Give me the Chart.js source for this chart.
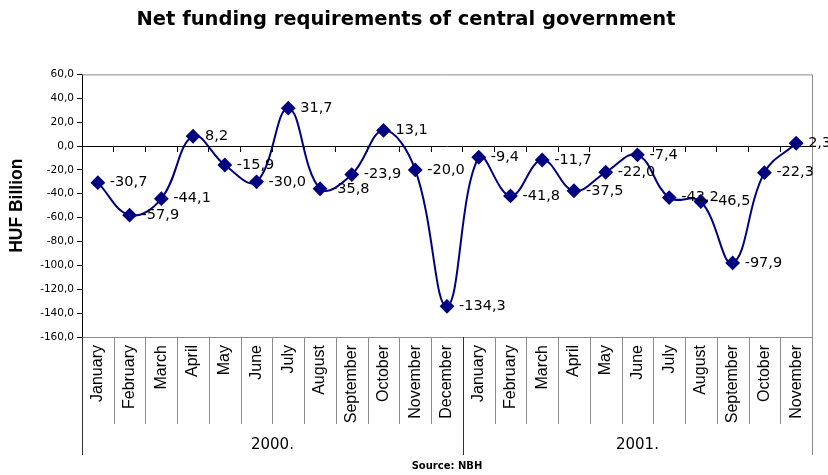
<!DOCTYPE html>
<html>
<head>
<meta charset="utf-8">
<title>Net funding requirements of central government</title>
<script src="https://cdn.jsdelivr.net/npm/chart.js@4.4.1/dist/chart.umd.min.js"></script>
<style>
  html, body { margin: 0; padding: 0; background: #ffffff; }
  #wrap { width: 828px; height: 475px; }
</style>
</head>
<body>
<div id="wrap"><canvas id="chart" width="828" height="475"></canvas></div>
<script>
// Monthly net funding requirement, HUF billion
const months2000 = ['January', 'February', 'March', 'April', 'May', 'June', 'July',
  'August', 'September', 'October', 'November', 'December'];
const months2001 = ['January', 'February', 'March', 'April', 'May', 'June', 'July',
  'August', 'September', 'October', 'November'];
const values2000 = [-30.7, -57.9, -44.1, 8.2, -15.9, -30.0, 31.7, -35.8, -23.9, 13.1, -20.0, -134.3];
const values2001 = [-9.4, -41.8, -11.7, -37.5, -22.0, -7.4, -43.2, -46.5, -97.9, -22.3, 2.3];
const yearLabels = ['2000.', '2001.'];
const yMin = -160;
const yMax = 60;
const yStep = 20;

const labels = months2000.concat(months2001);
const values = values2000.concat(values2001);
const yearSpans = [months2000.length, months2001.length];

const fmt = v => v.toFixed(1).replace('.', ',');

const NAVY = '#000080';
const GRAY = '#8c8c8c';
const SANS = "'DejaVu Sans', sans-serif";
const ARIAL = "'Liberation Sans', Arial, sans-serif";

// Value labels to the right of each marker
const valueLabels = {
  id: 'valueLabels',
  afterDatasetsDraw(chart) {
    const ctx = chart.ctx;
    const meta = chart.getDatasetMeta(0);
    ctx.save();
    ctx.font = '14.5px ' + SANS;
    ctx.fillStyle = '#000';
    ctx.textAlign = 'left';
    ctx.textBaseline = 'middle';
    meta.data.forEach((pt, i) => {
      ctx.fillText(fmt(chart.data.datasets[0].data[i]), pt.x + 12, pt.y);
    });
    ctx.restore();
  }
};

// Plot frame, category separators, year row and source note
const frame = {
  id: 'frame',
  beforeDatasetsDraw(chart) {
    const ctx = chart.ctx;
    const a = chart.chartArea;
    const xs = chart.scales.x;
    const n = labels.length;
    const monthRow = 87;
    const yearRow = 118;
    const edge = i => {
      if (i <= 0) return a.left;
      if (i >= n) return a.right;
      return (xs.getPixelForValue(i - 1) + xs.getPixelForValue(i)) / 2;
    };
    ctx.save();
    ctx.lineWidth = 1;
    // top and right border of the plot
    ctx.strokeStyle = GRAY;
    ctx.beginPath();
    ctx.moveTo(a.left, a.top + 0.5);
    ctx.lineTo(a.right + 0.5, a.top + 0.5);
    ctx.lineTo(a.right + 0.5, a.bottom + yearRow);
    ctx.stroke();
    // month separators
    ctx.beginPath();
    for (let i = 1; i < n; i++) {
      const x = Math.round(edge(i)) + 0.5;
      ctx.moveTo(x, a.bottom);
      ctx.lineTo(x, a.bottom + monthRow);
    }
    ctx.stroke();
    // year boundaries
    ctx.strokeStyle = '#333';
    ctx.beginPath();
    let start = 0;
    const bounds = [0];
    yearSpans.forEach(s => { start += s; bounds.push(start); });
    bounds.slice(0, -1).forEach(b => {
      const x = Math.round(edge(b)) + 0.5;
      ctx.moveTo(x, a.bottom);
      ctx.lineTo(x, a.bottom + yearRow);
    });
    ctx.stroke();
    // year labels
    ctx.fillStyle = '#000';
    ctx.font = '15px ' + SANS;
    ctx.textAlign = 'center';
    ctx.textBaseline = 'middle';
    yearLabels.forEach((yl, k) => {
      const cx = (edge(bounds[k]) + edge(bounds[k + 1])) / 2;
      ctx.fillText(yl, cx, a.bottom + 108);
    });
    // source note
    ctx.font = 'bold 10px ' + SANS;
    ctx.fillText('Source: NBH', 447, 466);
    ctx.restore();
  }
};

new Chart(document.getElementById('chart'), {
  type: 'line',
  data: {
    labels: labels,
    datasets: [{
      data: values,
      borderColor: NAVY,
      backgroundColor: NAVY,
      borderWidth: 2,
      tension: 0.4,
      pointStyle: 'rectRot',
      pointRadius: 6,
      pointHoverRadius: 6,
      pointBackgroundColor: NAVY,
      pointBorderColor: NAVY,
      fill: false,
      xAxisID: 'x',
      yAxisID: 'y'
    }]
  },
  options: {
    responsive: false,
    devicePixelRatio: 1,
    animation: false,
    events: [],
    layout: { padding: { left: 0, right: 16, top: 0, bottom: 51 } },
    plugins: {
      legend: { display: false },
      tooltip: { enabled: false },
      title: {
        display: true,
        text: 'Net funding requirements of central government',
        color: '#000',
        font: { family: SANS, size: 19.5, weight: 'bold', lineHeight: 1.2 },
        padding: { top: 8, bottom: 43 }
      }
    },
    scales: {
      x: {
        type: 'category',
        offset: true,
        position: 'bottom',
        afterFit(scale) { scale.height = 87; },
        grid: { display: true, drawOnChartArea: false, drawTicks: false, offset: true, color: 'rgba(0,0,0,0)' },
        border: { display: true, color: GRAY, width: 1 },
        ticks: {
          autoSkip: false,
          minRotation: 90,
          maxRotation: 90,
          padding: 8,
          color: '#000',
          font: { family: ARIAL, size: 16 }
        }
      },
      x0: {
        type: 'category',
        axis: 'x',
        offset: true,
        position: { y: 0 },
        grid: { display: true, drawOnChartArea: false, drawTicks: true, tickLength: 5, offset: true, color: '#000' },
        border: { display: true, color: '#000', width: 1 },
        ticks: { display: false }
      },
      y: {
        type: 'linear',
        position: 'left',
        min: yMin,
        max: yMax,
        afterFit(scale) { scale.width = 82; },
        grid: { display: true, drawOnChartArea: false, drawTicks: true, tickLength: 5, color: '#000' },
        border: { display: true, color: '#000', width: 1 },
        ticks: {
          stepSize: yStep,
          padding: 3,
          color: '#000',
          font: { family: SANS, size: 10.5 },
          callback: v => fmt(v)
        },
        title: {
          display: true,
          text: 'HUF Billion',
          color: '#000',
          font: { family: ARIAL, size: 17.5, weight: 'bold' },
          padding: { top: 7, bottom: 0 }
        }
      }
    }
  },
  plugins: [frame, valueLabels]
});
</script>
</body>
</html>
